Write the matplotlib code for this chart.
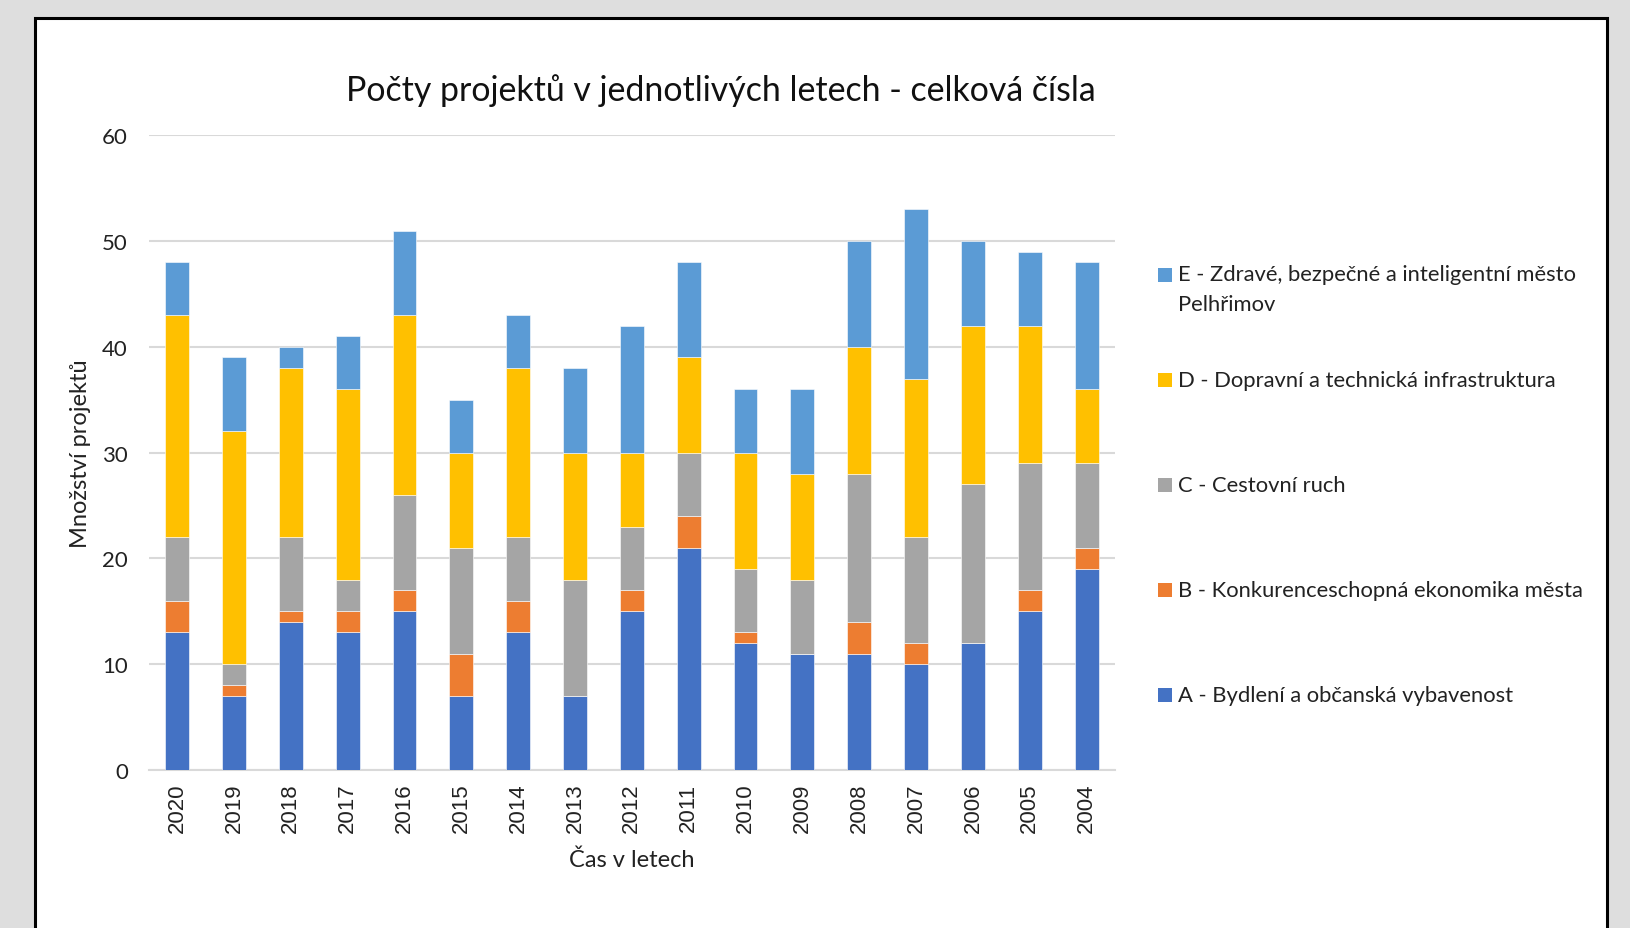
import matplotlib
matplotlib.use("Agg")
import matplotlib.pyplot as plt
from matplotlib.patches import Rectangle
import numpy as np

years = ["2020", "2019", "2018", "2017", "2016", "2015", "2014", "2013", "2012",
         "2011", "2010", "2009", "2008", "2007", "2006", "2005", "2004"]
A = [13, 7, 14, 13, 15, 7, 13, 7, 15, 21, 12, 11, 11, 10, 12, 15, 19]
B = [3, 1, 1, 2, 2, 4, 3, 0, 2, 3, 1, 0, 3, 2, 0, 2, 2]
C = [6, 2, 7, 3, 9, 10, 6, 11, 6, 6, 6, 7, 14, 10, 15, 12, 8]
D = [21, 22, 16, 18, 17, 9, 16, 12, 7, 9, 11, 10, 12, 15, 15, 13, 7]
E = [5, 7, 2, 5, 8, 5, 5, 8, 12, 9, 6, 8, 10, 16, 8, 7, 12]

series_labels = [
    "A - Bydlení a občanská vybavenost",
    "B - Konkurenceschopná ekonomika města",
    "C - Cestovní ruch",
    "D - Dopravní a technická infrastruktura",
    "E - Zdravé, bezpečné a inteligentní město\nPelhřimov",
]
colors = ["#4472C4", "#ED7D31", "#A5A5A5", "#FFC000", "#5B9BD5"]

W, H = 1631, 929
fig = plt.figure(figsize=(W / 100, H / 100), dpi=100)
fig.patch.set_facecolor("#dedede")

# white panel with black border
panel = Rectangle((35 / W, -0.02), (1607 - 35) / W, 1 - 19 / H + 0.02,
                  transform=fig.transFigure, facecolor="white",
                  edgecolor="black", linewidth=2.2, zorder=-5)
fig.patches.append(panel)

ax = fig.add_axes([148.7 / W, 1 - 771 / H, (1115 - 148.7) / W, (771 - 136.3) / H])
ax.set_facecolor("none")
ax.set_zorder(2)

x = np.arange(len(years))
bottom = np.zeros(len(years))
for vals, col in zip([A, B, C, D, E], colors):
    ax.bar(x, vals, width=0.42, bottom=bottom, color=col, zorder=3,
           edgecolor="white", linewidth=0.4)
    bottom += np.array(vals)

ax.set_xlim(-0.5, len(years) - 0.5)
ax.set_ylim(0, 60)
ax.set_yticks([0, 10, 20, 30, 40, 50, 60])
ax.yaxis.grid(True, color="#d9d9d9", linewidth=1.5, zorder=0)
ax.set_axisbelow(True)
for s in ["top", "right", "left"]:
    ax.spines[s].set_visible(False)
ax.spines["bottom"].set_color("#d9d9d9")
ax.spines["bottom"].set_linewidth(1.5)
ax.tick_params(axis="both", length=0)
ax.tick_params(axis="y", pad=15, labelsize=16, labelcolor="#222222")
ax.set_xticks(x)
ax.set_xticklabels(years, rotation=90, fontsize=16, family="Liberation Sans",
                   color="#222222")
ax.tick_params(axis="x", pad=9)
for lab in ax.get_yticklabels():
    lab.set_family("Lato")

ax.set_xlabel("Čas v letech", fontsize=17, family="Lato", labelpad=12, color="#222222")
ax.set_ylabel("Množství projektů", fontsize=17, family="Lato", labelpad=8, color="#222222")

fig.text(721 / W, 1 - 90.5 / H, "Počty projektů v jednotlivých letech - celková čísla",
         ha="center", va="center", fontsize=24.4, family="Lato", color="#111111")

# legend (top to bottom: E, D, C, B, A)
leg_y = [276, 381, 486, 591, 696]
for yy, lab, col in zip(leg_y, series_labels[::-1], colors[::-1]):
    sq = 14
    fig.patches.append(Rectangle((1158 / W, 1 - (yy + sq / 2) / H), sq / W, sq / H,
                                 transform=fig.transFigure, facecolor=col,
                                 edgecolor="none"))
    if "\n" in lab:
        fig.text(1178 / W, 1 - (yy - 11) / H, lab, ha="left", va="top",
                 fontsize=15.8, family="Lato", color="#222222", linespacing=1.65)
    else:
        fig.text(1178 / W, 1 - yy / H, lab, ha="left", va="center",
                 fontsize=15.8, family="Lato", color="#222222")

fig.savefig("out.png", dpi=100, facecolor=fig.get_facecolor())
